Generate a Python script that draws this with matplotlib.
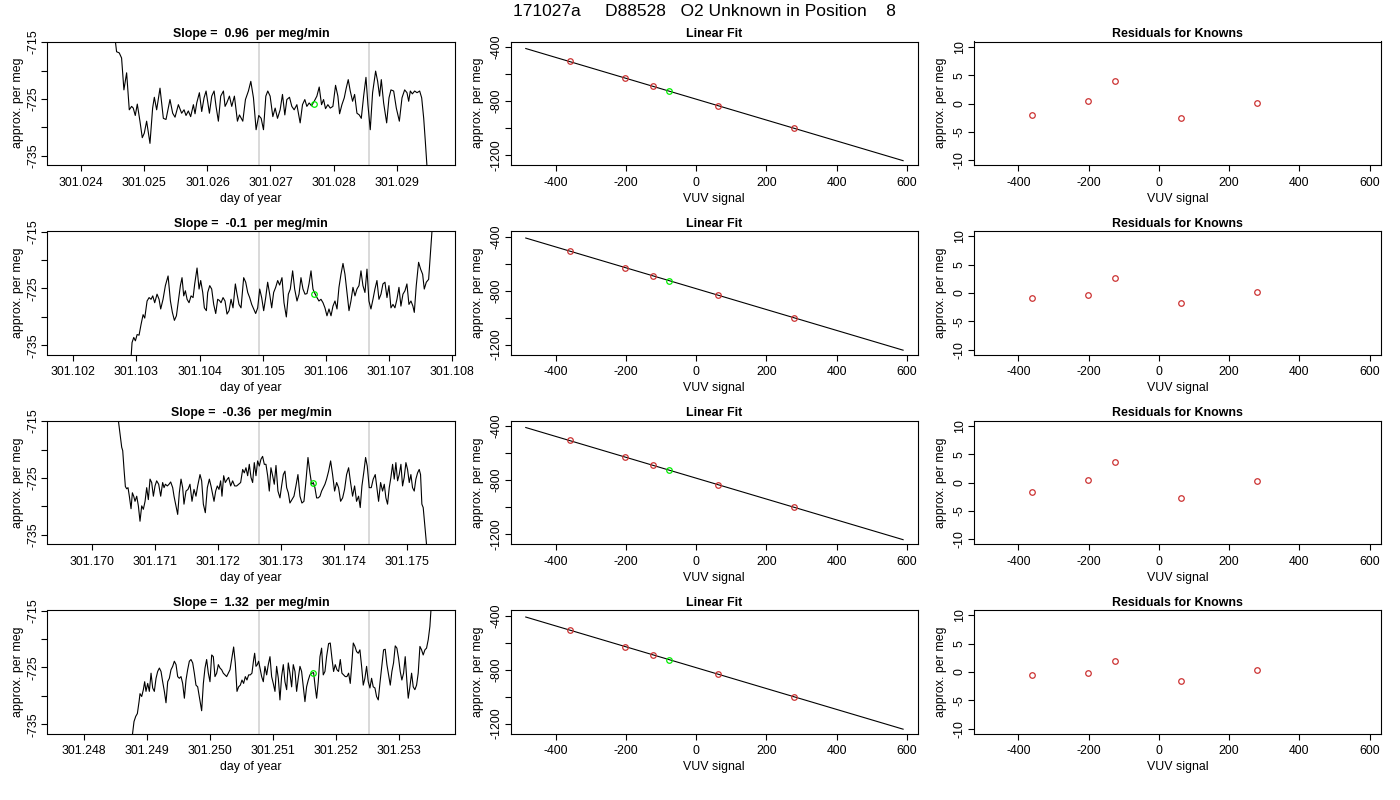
import matplotlib
matplotlib.use('Agg')
import matplotlib.pyplot as plt
from matplotlib.ticker import FormatStrFormatter

plt.rcParams['font.family'] = ['Liberation Sans', 'DejaVu Sans']
plt.rcParams['axes.unicode_minus'] = False

#run info
run_title = "171027a     D88528   O2 Unknown in Position    8"
slopes = ["0.96", "-0.1", "-0.36", "1.32"]

#time series for each of the 4 unknown measurements (day of year, per meg)
day_r1 = [301.024497, 301.024561, 301.024603, 301.024640, 301.024677, 301.024720, 301.024762, 301.024799, 301.024825, 301.024857,
          301.024889, 301.024931, 301.024968, 301.025000, 301.025037, 301.025090, 301.025132, 301.025159, 301.025196, 301.025249,
          301.025302, 301.025344, 301.025407, 301.025450, 301.025487, 301.025540, 301.025592, 301.025630, 301.025661, 301.025698,
          301.025735, 301.025778, 301.025804, 301.025831, 301.025873, 301.025910, 301.025947, 301.025979, 301.026032, 301.026069,
          301.026106, 301.026137, 301.026174, 301.026211, 301.026254, 301.026280, 301.026307, 301.026349, 301.026386, 301.026428,
          301.026476, 301.026508, 301.026561, 301.026603, 301.026650, 301.026688, 301.026730, 301.026772, 301.026814, 301.026852,
          301.026889, 301.026926, 301.026957, 301.026994, 301.027037, 301.027074, 301.027111, 301.027153, 301.027190, 301.027227,
          301.027259, 301.027301, 301.027338, 301.027375, 301.027418, 301.027470, 301.027507, 301.027544, 301.027576, 301.027613,
          301.027650, 301.027693, 301.027735, 301.027772, 301.027809, 301.027841, 301.027872, 301.027909, 301.027947, 301.027989,
          301.028031, 301.028068, 301.028095, 301.028132, 301.028169, 301.028200, 301.028232, 301.028264, 301.028301, 301.028333,
          301.028370, 301.028407, 301.028439, 301.028476, 301.028513, 301.028544, 301.028581, 301.028618, 301.028666, 301.028698,
          301.028729, 301.028756, 301.028793, 301.028841, 301.028878, 301.028909, 301.028952, 301.028994, 301.029042, 301.029084,
          301.029126, 301.029163, 301.029190, 301.029216, 301.029248, 301.029285, 301.029322, 301.029364, 301.029396, 301.029428,
          301.029454, 301.029492, 301.029523]
val_r1 = [-710.7, -716.7, -716.9, -717.8, -723.4, -720.4, -726.9, -726.3, -726.6, -727.9,
          -725.9, -728.9, -731.8, -731.0, -728.9, -732.8, -726.6, -724.7, -726.9, -723.1,
          -728.4, -728.6, -725.1, -727.5, -728.2, -726.0, -727.5, -726.9, -727.9, -727.1,
          -728.1, -726.0, -727.6, -725.7, -723.9, -727.2, -724.8, -723.6, -727.5, -724.5,
          -723.6, -726.3, -728.9, -724.5, -723.6, -726.3, -725.7, -724.5, -726.3, -724.5,
          -728.9, -727.8, -728.9, -725.1, -723.6, -721.9, -724.8, -730.4, -727.9, -728.4,
          -730.4, -724.5, -723.6, -724.5, -728.1, -726.6, -728.4, -726.9, -724.2, -727.8,
          -725.1, -724.7, -726.3, -726.9, -726.0, -729.2, -726.0, -725.1, -726.3, -725.7,
          -726.2, -725.4, -724.5, -722.9, -726.0, -725.1, -726.7, -726.0, -726.6, -726.3,
          -722.6, -724.5, -727.6, -726.0, -724.8, -723.1, -721.6, -723.6, -725.4, -724.2,
          -727.5, -727.8, -728.4, -724.5, -721.2, -726.0, -730.4, -723.9, -720.1, -721.9,
          -724.5, -721.6, -725.7, -729.2, -724.8, -723.4, -723.6, -726.6, -728.9, -724.8,
          -723.4, -723.9, -725.4, -723.6, -724.1, -723.6, -723.9, -723.6, -724.8, -728.4,
          -732.5, -738.9, -744.8]

day_r2 = [301.102894, 301.102916, 301.102931, 301.102958, 301.102984, 301.103011, 301.103042, 301.103074, 301.103106, 301.103132,
          301.103169, 301.103201, 301.103232, 301.103259, 301.103290, 301.103327, 301.103359, 301.103385, 301.103422, 301.103459,
          301.103502, 301.103539, 301.103570, 301.103602, 301.103634, 301.103671, 301.103697, 301.103723, 301.103750, 301.103776,
          301.103803, 301.103834, 301.103866, 301.103898, 301.103924, 301.103961, 301.103993, 301.104019, 301.104051, 301.104077,
          301.104109, 301.104130, 301.104162, 301.104193, 301.104225, 301.104257, 301.104288, 301.104315, 301.104341, 301.104373,
          301.104404, 301.104436, 301.104468, 301.104500, 301.104531, 301.104568, 301.104595, 301.104626, 301.104658, 301.104700,
          301.104732, 301.104764, 301.104795, 301.104827, 301.104859, 301.104890, 301.104922, 301.104954, 301.104985, 301.105017,
          301.105049, 301.105080, 301.105112, 301.105144, 301.105175, 301.105207, 301.105239, 301.105270, 301.105307, 301.105339,
          301.105376, 301.105408, 301.105439, 301.105476, 301.105508, 301.105545, 301.105577, 301.105608, 301.105640, 301.105672,
          301.105703, 301.105735, 301.105767, 301.105798, 301.105820, 301.105862, 301.105893, 301.105925, 301.105957, 301.105988,
          301.106020, 301.106052, 301.106084, 301.106115, 301.106147, 301.106179, 301.106210, 301.106242, 301.106274, 301.106305,
          301.106337, 301.106369, 301.106400, 301.106432, 301.106464, 301.106495, 301.106527, 301.106559, 301.106590, 301.106622,
          301.106654, 301.106685, 301.106717, 301.106749, 301.106780, 301.106812, 301.106844, 301.106876, 301.106907, 301.106939,
          301.106971, 301.107002, 301.107034, 301.107066, 301.107097, 301.107129, 301.107161, 301.107192, 301.107224, 301.107256,
          301.107287, 301.107319, 301.107351, 301.107382, 301.107404, 301.107435, 301.107472, 301.107504, 301.107536, 301.107562,
          301.107594, 301.107631, 301.107657, 301.107683, 301.107710]
val_r2 = [-740.7, -736.9, -734.5, -733.6, -734.2, -733.1, -733.2, -731.3, -729.6, -730.2,
          -727.2, -726.6, -726.9, -726.3, -727.5, -726.0, -726.9, -728.6, -726.9, -724.5,
          -722.8, -727.2, -729.2, -730.6, -729.8, -726.6, -724.5, -723.1, -726.3, -725.4,
          -726.9, -727.5, -726.3, -726.6, -724.2, -721.4, -725.1, -723.6, -725.7, -728.4,
          -728.9, -725.7, -724.5, -725.1, -727.8, -729.4, -726.9, -727.1, -727.5, -726.6,
          -727.2, -729.5, -728.9, -726.9, -728.4, -724.2, -726.0, -727.8, -728.4, -723.1,
          -723.9, -725.7, -726.6, -727.8, -728.6, -729.4, -728.4, -725.1, -726.6, -728.9,
          -726.6, -723.9, -726.0, -728.4, -725.7, -724.8, -723.6, -724.4, -723.1, -727.5,
          -730.0, -726.0, -725.1, -721.9, -725.1, -727.2, -726.0, -723.1, -725.1, -726.0,
          -725.9, -724.2, -721.9, -725.1, -725.7, -726.6, -727.2, -726.9, -727.5, -728.4,
          -729.8, -728.6, -729.8, -728.1, -727.2, -728.6, -724.8, -722.5, -720.6, -722.5,
          -725.7, -728.9, -727.2, -724.8, -726.3, -725.1, -724.5, -721.9, -724.5, -725.7,
          -721.6, -727.2, -728.6, -726.9, -725.1, -723.6, -726.9, -726.0, -724.2, -723.9,
          -726.6, -724.5, -728.4, -727.8, -728.4, -726.9, -724.8, -728.1, -726.0, -725.4,
          -724.2, -727.8, -727.2, -728.1, -729.2, -724.5, -720.4, -721.6, -722.5, -725.1,
          -723.9, -723.4, -719.2, -715.1, -711.3]

day_r3 = [301.170393, 301.170419, 301.170446, 301.170472, 301.170488, 301.170509, 301.170530, 301.170551, 301.170572, 301.170593,
          301.170620, 301.170641, 301.170662, 301.170683, 301.170710, 301.170736, 301.170762, 301.170789, 301.170815, 301.170842,
          301.170868, 301.170894, 301.170921, 301.170947, 301.170974, 301.171000, 301.171026, 301.171058, 301.171090, 301.171121,
          301.171143, 301.171164, 301.171195, 301.171222, 301.171248, 301.171280, 301.171301, 301.171327, 301.171359, 301.171385,
          301.171412, 301.171438, 301.171459, 301.171491, 301.171523, 301.171554, 301.171586, 301.171618, 301.171649, 301.171676,
          301.171713, 301.171739, 301.171766, 301.171797, 301.171829, 301.171861, 301.171887, 301.171908, 301.171935, 301.171961,
          301.171987, 301.172014, 301.172040, 301.172061, 301.172088, 301.172114, 301.172146, 301.172167, 301.172199, 301.172230,
          301.172262, 301.172294, 301.172325, 301.172357, 301.172389, 301.172415, 301.172441, 301.172468, 301.172494, 301.172521,
          301.172547, 301.172573, 301.172600, 301.172626, 301.172653, 301.172679, 301.172705, 301.172732, 301.172758, 301.172785,
          301.172811, 301.172837, 301.172864, 301.172890, 301.172917, 301.172948, 301.172980, 301.173006, 301.173033, 301.173059,
          301.173086, 301.173112, 301.173138, 301.173170, 301.173202, 301.173233, 301.173265, 301.173297, 301.173328, 301.173360,
          301.173392, 301.173424, 301.173455, 301.173482, 301.173508, 301.173534, 301.173561, 301.173587, 301.173614, 301.173640,
          301.173666, 301.173693, 301.173719, 301.173751, 301.173783, 301.173814, 301.173846, 301.173878, 301.173909, 301.173941,
          301.173973, 301.174004, 301.174036, 301.174068, 301.174099, 301.174131, 301.174163, 301.174194, 301.174226, 301.174252,
          301.174279, 301.174311, 301.174337, 301.174363, 301.174395, 301.174427, 301.174458, 301.174490, 301.174516, 301.174543,
          301.174575, 301.174606, 301.174633, 301.174659, 301.174685, 301.174712, 301.174738, 301.174765, 301.174791, 301.174817,
          301.174844, 301.174870, 301.174897, 301.174923, 301.174949, 301.174976, 301.175002, 301.175029, 301.175055, 301.175081,
          301.175108, 301.175134, 301.175161, 301.175187, 301.175208, 301.175229, 301.175250, 301.175277, 301.175303, 301.175330]
val_r3 = [-711.7, -714.9, -717.3, -719.6, -720.2, -723.5, -726.5, -726.9, -726.7, -728.2,
          -730.4, -727.6, -728.2, -729.1, -728.2, -729.9, -732.6, -729.9, -730.5, -729.1,
          -726.7, -728.8, -725.2, -725.8, -728.2, -726.4, -725.5, -726.1, -728.2, -725.8,
          -726.7, -726.1, -726.4, -726.1, -725.7, -726.7, -728.2, -729.6, -731.4, -727.6,
          -725.2, -726.7, -729.6, -727.3, -727.0, -726.1, -729.1, -727.0, -728.2, -726.4,
          -724.4, -725.5, -729.6, -731.1, -726.7, -725.2, -726.4, -727.6, -729.1, -727.3,
          -726.4, -727.0, -725.5, -728.2, -724.6, -725.8, -725.2, -724.9, -726.4, -725.5,
          -726.4, -726.4, -726.1, -725.8, -723.5, -724.1, -723.2, -724.6, -722.6, -724.9,
          -725.8, -722.3, -724.6, -722.0, -722.9, -721.7, -721.2, -722.6, -722.6, -724.6,
          -727.3, -723.2, -724.6, -726.1, -722.8, -727.3, -728.5, -726.4, -724.4, -723.8,
          -726.7, -727.6, -729.4, -728.8, -728.2, -726.4, -724.4, -728.2, -729.4, -729.1,
          -725.5, -721.4, -724.1, -726.1, -725.8, -726.7, -728.5, -728.5, -728.2, -727.3,
          -726.7, -726.1, -725.2, -723.8, -722.0, -724.4, -727.3, -725.8, -726.7, -729.1,
          -728.5, -727.0, -724.4, -723.2, -725.8, -728.2, -726.4, -729.1, -728.2, -730.2,
          -726.4, -723.8, -721.4, -722.9, -726.7, -726.7, -725.2, -724.4, -726.7, -729.1,
          -725.8, -727.3, -726.1, -728.5, -729.6, -726.7, -724.9, -722.6, -725.2, -722.3,
          -725.5, -724.4, -722.6, -726.4, -724.9, -722.3, -723.5, -725.8, -724.4, -726.7,
          -727.3, -725.2, -724.1, -723.5, -724.4, -729.6, -730.2, -733.5, -736.7, -741.1]

day_r4 = [301.248752, 301.248773, 301.248799, 301.248826, 301.248852, 301.248879, 301.248894, 301.248921, 301.248947, 301.248968,
          301.248989, 301.249016, 301.249042, 301.249069, 301.249095, 301.249121, 301.249148, 301.249174, 301.249201, 301.249227,
          301.249253, 301.249280, 301.249306, 301.249333, 301.249359, 301.249385, 301.249412, 301.249438, 301.249465, 301.249491,
          301.249517, 301.249544, 301.249570, 301.249597, 301.249623, 301.249649, 301.249676, 301.249702, 301.249729, 301.249755,
          301.249781, 301.249808, 301.249834, 301.249871, 301.249898, 301.249924, 301.249950, 301.249977, 301.250003, 301.250030,
          301.250056, 301.250082, 301.250109, 301.250135, 301.250162, 301.250188, 301.250214, 301.250241, 301.250267, 301.250294,
          301.250320, 301.250346, 301.250378, 301.250404, 301.250431, 301.250457, 301.250484, 301.250510, 301.250536, 301.250563,
          301.250589, 301.250616, 301.250642, 301.250668, 301.250695, 301.250711, 301.250732, 301.250753, 301.250774, 301.250795,
          301.250822, 301.250848, 301.250874, 301.250901, 301.250927, 301.250954, 301.250980, 301.251006, 301.251033, 301.251059,
          301.251086, 301.251112, 301.251138, 301.251165, 301.251191, 301.251218, 301.251244, 301.251270, 301.251297, 301.251323,
          301.251350, 301.251376, 301.251402, 301.251429, 301.251455, 301.251482, 301.251508, 301.251534, 301.251561, 301.251587,
          301.251614, 301.251645, 301.251672, 301.251693, 301.251719, 301.251746, 301.251772, 301.251798, 301.251825, 301.251851,
          301.251883, 301.251909, 301.251936, 301.251962, 301.251988, 301.252015, 301.252041, 301.252068, 301.252094, 301.252120,
          301.252147, 301.252173, 301.252200, 301.252226, 301.252252, 301.252274, 301.252300, 301.252326, 301.252353, 301.252379,
          301.252406, 301.252432, 301.252458, 301.252485, 301.252511, 301.252538, 301.252564, 301.252590, 301.252617, 301.252643,
          301.252670, 301.252696, 301.252728, 301.252754, 301.252780, 301.252807, 301.252833, 301.252860, 301.252886, 301.252912,
          301.252939, 301.252965, 301.252992, 301.253018, 301.253044, 301.253071, 301.253097, 301.253124, 301.253145, 301.253171,
          301.253198, 301.253224, 301.253250, 301.253277, 301.253303, 301.253330, 301.253356, 301.253382, 301.253409, 301.253435,
          301.253462, 301.253488, 301.253504, 301.253525]
val_r4 = [-740.1, -736.9, -734.5, -733.6, -733.1, -731.0, -729.6, -730.1, -728.9, -727.5,
          -729.2, -727.8, -729.2, -726.0, -728.6, -729.2, -726.9, -725.7, -725.1, -725.7,
          -727.5, -729.2, -731.2, -727.5, -726.9, -725.4, -724.8, -723.9, -724.5, -726.6,
          -726.9, -726.6, -727.8, -730.4, -727.2, -725.4, -723.9, -723.6, -724.2, -726.0,
          -728.1, -728.4, -730.1, -732.6, -727.8, -725.1, -723.6, -726.0, -727.5, -722.8,
          -723.1, -726.6, -726.0, -724.5, -725.1, -725.4, -726.0, -726.3, -726.6, -726.0,
          -725.4, -723.6, -721.4, -724.2, -729.2, -728.4, -728.1, -727.2, -727.8, -726.6,
          -727.2, -726.3, -726.3, -726.0, -723.6, -722.5, -724.8, -724.5, -723.9, -725.1,
          -726.6, -727.5, -724.8, -726.3, -724.5, -723.1, -726.6, -727.8, -729.2, -724.8,
          -726.9, -730.7, -726.6, -724.5, -727.5, -728.9, -724.2, -726.0, -728.4, -724.5,
          -725.7, -729.2, -726.9, -724.8, -725.7, -728.4, -731.0, -728.4, -727.2, -726.3,
          -726.0, -725.9, -728.6, -730.4, -727.5, -723.1, -721.6, -726.3, -725.7, -723.1,
          -720.8, -720.7, -723.4, -725.7, -724.5, -725.4, -725.7, -723.6, -726.0, -726.3,
          -726.6, -726.6, -726.0, -727.8, -724.2, -720.7, -721.3, -722.2, -722.5, -721.9,
          -724.8, -728.1, -726.9, -724.8, -727.5, -728.6, -726.9, -728.4, -728.6, -730.1,
          -730.7, -727.8, -724.5, -721.9, -721.8, -724.5, -726.3, -728.1, -725.7, -724.2,
          -721.2, -721.6, -723.4, -725.7, -727.2, -726.0, -723.1, -727.5, -730.4, -728.4,
          -726.0, -728.4, -728.9, -728.1, -726.0, -721.3, -721.9, -722.8, -721.9, -721.6,
          -720.1, -717.8, -715.1, -711.9]

#unknown point (green) and grey markers for each row
unk_day = [301.027682, 301.105809, 301.173508, 301.251640]
unk_val = [-725.9, -725.9, -725.8, -725.9]
grey_days = [[301.026814, 301.028560], [301.104943, 301.106685],
             [301.172642, 301.174384], [301.250774, 301.252516]]
day_lims = [(301.023466, 301.029924), (301.101591, 301.108049),
            (301.169296, 301.175754), (301.247428, 301.253886)]
day_ticks = [[301.024, 301.025, 301.026, 301.027, 301.028, 301.029],
             [301.102, 301.103, 301.104, 301.105, 301.106, 301.107, 301.108],
             [301.170, 301.171, 301.172, 301.173, 301.174, 301.175],
             [301.248, 301.249, 301.250, 301.251, 301.252, 301.253]]

#standards: VUV signal vs assigned per meg, and the fit line
known_vuv = [-360, -202, -124, 62, 278]
known_meg = [-506, -630, -691, -834, -1000]
unk_vuv = -76
unk_meg = -726
fit_vuv = [-485, 589]
fit_meg = [-410, -1241]
resid = [[-1.95, 0.5, 3.9, -2.5, 0.05],
         [-0.8, -0.4, 2.6, -1.8, 0.25],
         [-1.75, 0.5, 3.55, -2.7, 0.3],
         [-0.55, -0.25, 2.0, -1.6, 0.4]]

days = [day_r1, day_r2, day_r3, day_r4]
vals = [val_r1, val_r2, val_r3, val_r4]

fig = plt.figure(figsize=(14, 8), dpi=100)
W, H = 1400.0, 800.0
col_x = [47.5, 511, 974]
col_w = [407.5, 406.5, 407]
row_top = [41.5, 231, 420.5, 610]
ax_h = 123.5
tfs = 8.9

def make_ax(r, c):
    ax = fig.add_axes([col_x[c] / W, 1 - (row_top[r] + ax_h) / H, col_w[c] / W, ax_h / H])
    for s in ax.spines.values():
        s.set_linewidth(0.8)
        s.set_color('black')
    ax.tick_params(direction='out', length=4, width=0.8, labelsize=tfs, pad=2)
    ax.tick_params(axis='x', pad=4.5)
    return ax

def yticks_rot(ax, ticks, labels):
    ax.set_yticks(ticks, labels=labels, rotation=90, va='center')

for r in range(4):
    #time series
    ax = make_ax(r, 0)
    for d in grey_days[r]:
        ax.axvline(d, color='#d0d0d0', lw=1.1, zorder=1)
    ax.plot(days[r], vals[r], color='black', lw=0.8, zorder=2)
    ax.plot(unk_day[r], unk_val[r], 'o', mfc='none', mec='#00ee00', ms=4, mew=0.9, zorder=3)
    ax.set_xlim(day_lims[r])
    ax.set_ylim(-736.6, -714.9)
    ax.set_xticks(day_ticks[r])
    ax.xaxis.set_major_formatter(FormatStrFormatter('%.3f'))
    yticks_rot(ax, [-735, -730, -725, -720, -715], ['-735', '', '-725', '', '-715'])
    ax.set_title('Slope =  ' + slopes[r] + '  per meg/min', fontsize=tfs, fontweight='bold', pad=3)
    ax.set_xlabel('day of year', fontsize=tfs)
    ax.set_ylabel('approx. per meg', fontsize=tfs)
    ax.xaxis.set_label_coords(0.5, -0.225)
    ax.yaxis.set_label_coords(-0.058, 0.5)

    #linear fit
    ax = make_ax(r, 1)
    ax.plot(fit_vuv, fit_meg, color='black', lw=0.8)
    ax.plot(known_vuv, known_meg, 'o', mfc='none', mec='#cc3333', ms=4, mew=0.9)
    ax.plot(unk_vuv, unk_meg, 'o', mfc='none', mec='#00ee00', ms=4, mew=0.9)
    ax.set_xlim(-527, 630)
    ax.set_ylim(-1273, -358)
    ax.set_xticks([-400, -200, 0, 200, 400, 600])
    yticks_rot(ax, [-1200, -1000, -800, -600, -400], ['-1200', '', '-800', '', '-400'])
    ax.set_title('Linear Fit', fontsize=tfs, fontweight='bold', pad=3)
    ax.set_xlabel('VUV signal', fontsize=tfs)
    ax.set_ylabel('approx. per meg', fontsize=tfs)
    ax.xaxis.set_label_coords(0.5, -0.225)
    ax.yaxis.set_label_coords(-0.066, 0.5)

    #residuals
    ax = make_ax(r, 2)
    ax.plot(known_vuv, resid[r], 'o', mfc='none', mec='#cc3333', ms=4, mew=0.9)
    ax.set_xlim(-526, 632)
    ax.set_ylim(-10.8, 10.9)
    ax.set_xticks([-400, -200, 0, 200, 400, 600])
    yticks_rot(ax, [-10, -5, 0, 5, 10], ['-10', '-5', '0', '5', '10'])
    ax.set_title('Residuals for Knowns', fontsize=tfs, fontweight='bold', pad=3)
    ax.set_xlabel('VUV signal', fontsize=tfs)
    ax.set_ylabel('approx. per meg', fontsize=tfs)
    ax.xaxis.set_label_coords(0.5, -0.225)
    ax.yaxis.set_label_coords(-0.066, 0.5)

fig.text(0.503, 0.985, run_title, ha='center', va='center', fontsize=12.5)

fig.savefig('out.png', dpi=100)
